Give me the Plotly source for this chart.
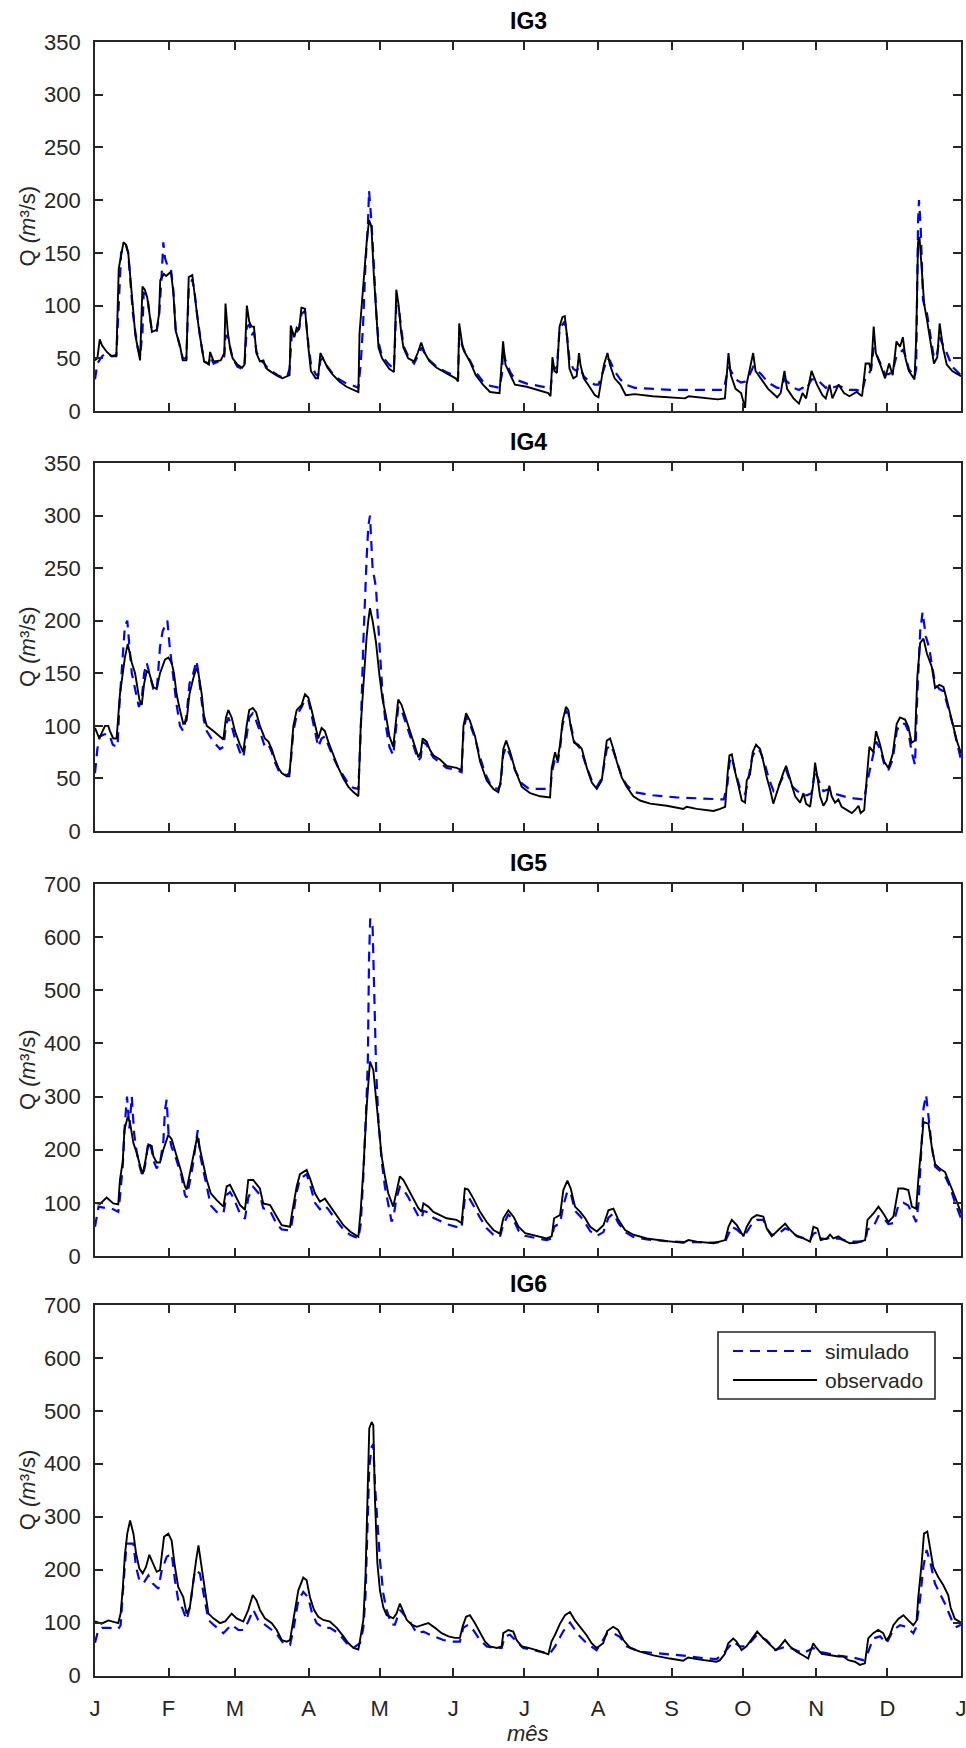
import plotly.graph_objects as go

# ---------------- data (day of year, Q m3/s) ----------------
MONTH_DAYS = [0, 31, 59, 90, 120, 151, 181, 212, 243, 273, 304, 334, 365]
MONTH_LABELS = ["J", "F", "M", "A", "M", "J", "J", "A", "S", "O", "N", "D", "J"]
STATIONS = ["IG3", "IG4", "IG5", "IG6"]
Y_MAX = [350, 350, 700, 700]
Y_STEP = [50, 50, 100, 100]
SERIES_NAMES = ["simulado", "observado"]

IG3_OBS = [(0,48),(1,50),(2,68),(3,62),(5,56),(7,52),(9,52),(10,135),(12,160),(13,158),(14,150),(15,124),(16,92),(17,72),(18,60),(19,48),(20,118),(21,115),(22,108),(23,92),(24,75),(26,77),(27,92),(27.5,124),(29,130),(30,128),(32,132),(33,113),(34,76),(36,60),(37,48),(38.5,48),(39.5,127),(41,129),(42,113),(43,92),(44,74),(45,60),(46,47),(48,44),(48.5,56),(50,47),(53,48),(54.5,55),(55,102),(56,74),(57,59),(58,50),(60,44),(62,41),(63,44),(64,100),(65,85),(66,80),(67,80),(68,55),(69.5,47),(71,48),(72,41),(73,39),(75,36),(77,33),(79,31),(81,33),(82,34),(82.5,81),(84,70),(85,79),(86,77),(87,98),(88.5,97),(90,59),(91,38),(93,31),(94,31),(95,55),(96,50),(98,41),(100,35),(103,28),(106,23),(109,20),(111,18),(111.5,74),(113,118),(114.5,160),(115.5,181),(116.5,175),(117.5,130),(118.5,90),(119.5,60),(121,50),(124,40),(126,37),(127,115),(128,100),(129,75),(130,60),(132,50),(134.5,47),(136,55),(137.5,65),(139,55),(141,47),(144,41),(148,36),(152,31),(153,28),(153.5,83),(155,60),(156,55),(158,47),(160.5,34),(163.5,25),(166.5,18),(170.5,17),(171.5,44),(172,66),(173,44),(175,34),(177,25),(182,23),(186,20),(191,17),(192,14),(192.8,51),(193.7,38),(194.7,36),(195.8,80),(197,89),(198,90),(199,70),(200,40),(201.6,31),(203,33),(204,55),(204.6,44),(206,31),(208.4,23),(210.7,15),(212.2,13),(214.5,44),(216,55),(217,44),(219,31),(221.4,25),(223.7,15),(227.5,16),(235,14),(242.7,13),(248.7,12),(250.3,14),(258,12),(262.4,11),(265.5,12),(267,55),(268,34),(270,21),(272.3,17),(273.5,8),(274,3),(274.6,25),(276,40),(277.4,55),(278.4,38),(280.7,31),(283.7,21),(287.5,13),(289,17),(290.6,38),(291.7,21),(294.4,12),(296.7,7),(298.2,17),(299.7,12),(302,38),(304.3,25),(306.6,15),(308,12),(309.6,25),(310.8,12),(313.4,25),(315.7,17),(318,14),(321,18),(323.3,14),(324.8,45),(326.3,45),(327.1,38),(328.2,80),(329.1,55),(331,44),(333,31),(334.7,45),(336.2,34),(337.8,66),(339.3,61),(340.5,70),(341.6,50),(343,38),(345.4,30),(346.1,68),(346.9,160),(347.5,165),(348.4,131),(349.5,101),(350.7,86),(352,68),(353.6,45),(355,51),(356,83),(357.5,59),(359,44),(361.3,38),(364.4,34),(365,33)]

IG3_SIM = [(0,30),(1,45),(3,52),(5,55),(7,52),(9,53),(10,100),(11,150),(12,155),(13,158),(14,150),(15,122),(16,92),(17,75),(18,60),(19,52),(20,75),(20.5,112),(22,110),(23,92),(24,76),(26,76),(27,90),(28,125),(28.8,160),(29.5,145),(30.5,138),(32,135),(33,115),(34,78),(36,60),(37,50),(38.5,50),(39.5,115),(41,125),(42,112),(43,92),(44,74),(45,60),(46,47),(48,45),(48.5,52),(50,45),(53,48),(54.5,52),(55,72),(56,70),(57,60),(58,50),(60,42),(62,40),(63,42),(64,80),(65,82),(66,72),(67,75),(68,57),(69.5,48),(71,46),(73,40),(75,37),(77,34),(79,32),(81,33),(82,40),(83,75),(84,72),(85,75),(86,78),(87,92),(88.5,95),(90,62),(91,45),(93,35),(94,33),(95,48),(96,50),(98,42),(100,36),(103,30),(106,26),(109,24),(111,22),(112,45),(113,82),(114,140),(115,175),(115.5,209),(116.5,180),(117.5,140),(118.5,95),(119.5,65),(121,52),(124,44),(126,40),(127,100),(128,98),(129,80),(130,62),(132,52),(134.5,45),(136,52),(137.5,60),(139,55),(141,48),(144,42),(148,37),(152,33),(153,30),(153.5,70),(155,62),(156,55),(158,48),(160.5,37),(163.5,28),(166.5,24),(170.5,22),(171.5,35),(172,58),(173,48),(175,37),(177,30),(182,26),(186,24),(191,22),(192,20),(192.8,40),(193.7,40),(194.7,42),(195.8,78),(197,82),(198,85),(199,70),(200,48),(201.6,40),(203,38),(204,42),(204.6,40),(206,33),(208.4,28),(210.7,25),(212.2,25),(214.5,40),(216,50),(217,48),(219,38),(221.4,30),(223.7,25),(227.5,22),(235,21),(242.7,20),(250,20),(258,20),(265,20),(267,42),(268,38),(270,30),(272.3,27),(274,28),(276,35),(277.4,42),(278.4,40),(280.7,35),(283.7,27),(287.5,22),(289,22),(290.6,30),(291.7,28),(294.4,22),(296.7,20),(298.2,22),(299.7,20),(302,30),(304.3,30),(306.6,25),(308,22),(309.6,24),(310.8,22),(313.4,24),(315.7,22),(318,20),(321,20),(323.3,18),(324.8,32),(326.3,36),(327.1,40),(328.2,60),(329.1,55),(331,45),(333,35),(334.7,35),(336.2,38),(337.8,52),(339.3,55),(340.5,58),(341.6,52),(343,40),(345.4,32),(346.1,40),(346.9,180),(347.3,200),(348,175),(349,105),(350.7,92),(352,75),(353.6,50),(355,55),(356,70),(357.5,62),(359,55),(361.3,42),(364.4,36),(365,34)]

IG4_OBS = [(0,98),(1.8,88),(4.2,100),(5.6,100),(6.3,95),(7.7,88),(9.1,88),(10.5,130),(11.7,150),(12.6,165),(13.8,178),(15.5,160),(16.9,150),(18.7,125),(19.7,120),(20.7,140),(21.8,152),(22.9,150),(24.6,137),(26,135),(27.4,150),(29.5,163),(30.9,165),(32.3,160),(33.3,150),(34.4,130),(35.8,115),(37.2,102),(38.6,105),(39.8,130),(41.4,145),(42.8,155),(43.6,150),(45,130),(45.9,110),(47.1,100),(49.9,95),(52.7,90),(54.1,87),(55.2,108),(56.2,115),(57.6,108),(59,95),(61.1,82),(62.5,75),(63.9,100),(65,115),(66.5,117),(67.9,113),(69.5,100),(71.6,88),(73.1,85),(74.5,78),(75.9,68),(77.3,60),(78.7,55),(80.8,52),(81.9,52),(82.5,70),(83.6,100),(85,115),(87.1,120),(88.5,130),(89.9,127),(91.3,115),(92.7,100),(94.1,88),(95.5,98),(96.9,95),(98.3,85),(100.4,72),(102.6,60),(104.7,50),(106.8,42),(108.9,37),(111,33),(112,100),(113.1,140),(114.5,185),(115.2,200),(115.9,212),(117,200),(118.4,180),(119.8,150),(121.2,125),(122.6,110),(124.1,90),(125.7,80),(126.9,110),(127.8,125),(129.2,120),(130.7,110),(132.8,95),(134.9,80),(136.3,70),(137.3,75),(138.1,88),(139.8,85),(141.2,77),(142.6,72),(145.4,68),(148.2,62),(152.4,60),(154.5,58),(155.3,100),(156.4,112),(158,105),(160.2,90),(162.3,66),(165.1,48),(167.9,40),(170,37),(171,48),(172.1,78),(173.3,86),(175,75),(177.1,58),(179.9,42),(183.4,36),(187.6,33),(191.8,32),(192.5,60),(193.9,75),(194.9,67),(196,82),(197.1,105),(198.5,118),(199.5,115),(200.5,99),(201.9,84),(203.7,82),(205.2,78),(207.3,60),(209.4,46),(211.5,40),(213.6,48),(215.7,86),(217.1,88),(218.5,78),(219.9,66),(222,51),(224.1,42),(226.9,33),(229.7,29),(234,26),(241,24),(248,21),(249.4,23),(253.6,21),(260.7,19),(263.5,21),(265.6,23),(266.6,54),(267.4,72),(268.4,73),(269.8,56),(271.2,43),(272.6,29),(274,27),(274.7,48),(276.1,54),(277.2,75),(278.6,82),(280.3,78),(281.7,66),(283.1,51),(284.5,40),(285.9,26),(287.3,36),(288.7,46),(290.2,56),(291.3,62),(292.3,54),(293.7,42),(295.1,33),(297.2,27),(298.6,36),(299.7,26),(301.4,23),(302.8,46),(303.5,65),(304.5,51),(305.6,33),(307,24),(308.4,29),(309.5,43),(310.5,33),(311.9,27),(313.3,30),(314.7,23),(316.9,20),(319,17),(320.4,20),(321.8,24),(322.7,17),(324.2,20),(325.3,51),(326.4,80),(328.1,75),(329.2,95),(330.9,82),(332.6,66),(334.4,60),(336.2,73),(337.9,102),(339.3,108),(341.4,106),(342.8,99),(344.2,84),(345.6,86),(346.6,147),(347.8,179),(349.2,183),(350.6,169),(352.7,156),(354.1,136),(355.9,139),(357.6,137),(359,125),(361.1,106),(363.2,86),(365,74)]

IG4_SIM = [(0,55),(1,78),(2,90),(4,92),(6,92),(7.5,82),(9.5,80),(10.3,120),(11.5,160),(12.6,195),(13.6,200),(14.5,175),(15.5,150),(16.9,135),(18.5,118),(19.7,125),(20.7,150),(21.8,160),(22.9,150),(24.6,135),(26,133),(27.4,175),(28.5,190),(29.5,195),(30.5,200),(31.5,175),(33.3,140),(34.4,120),(35.8,100),(37.2,95),(38.6,110),(39.8,140),(41.4,150),(42.8,162),(43.6,150),(45,125),(45.9,105),(47.1,95),(49.9,85),(52.7,78),(54.1,80),(55.2,100),(56.2,108),(57.6,100),(59,88),(61.1,75),(62.5,70),(63.9,90),(65,108),(66.5,112),(67.9,105),(69.5,95),(71.6,80),(73.1,82),(74.5,75),(75.9,65),(77.3,58),(78.7,55),(80.8,53),(81.9,55),(82.5,65),(83.6,95),(85,110),(87.1,118),(88.5,125),(89.9,125),(91.3,110),(92.7,95),(94.1,80),(95.5,88),(96.9,90),(98.3,82),(100.4,70),(102.6,60),(104.7,52),(106.8,45),(108.9,41),(111,40),(112,95),(113.1,180),(114.5,260),(115.2,290),(115.9,300),(117,250),(118.4,232),(119.8,175),(121.2,130),(122.6,100),(124.1,80),(125.7,72),(126.9,100),(127.8,118),(129.2,115),(130.7,105),(132.8,90),(134.9,75),(136.3,67),(137.3,70),(138.1,85),(139.8,82),(141.2,75),(142.6,70),(145.4,65),(148.2,60),(152.4,58),(154.5,56),(155.3,95),(156.4,108),(158,102),(160.2,88),(162.3,70),(164.4,55),(166.5,45),(168,41),(170,40),(171,45),(172,72),(173.3,80),(175,72),(177,58),(180,45),(183,40),(188,40),(192,40),(192.5,55),(194,70),(195,65),(196,78),(197,100),(198.5,114),(199.5,112),(200.5,100),(202,85),(204,80),(205,76),(207,62),(209.4,48),(211.5,42),(213.6,50),(215.7,78),(217.1,82),(218.5,76),(220,66),(222,52),(224,44),(227,37),(235,34),(245,32),(255,31),(265,30),(266.6,45),(267.4,65),(268.4,70),(270,55),(272,40),(274,35),(275,45),(277,70),(278.6,78),(280.3,76),(282,66),(284,50),(286,38),(288,42),(290,52),(291.3,58),(292.3,52),(294,42),(296,38),(298,35),(300,34),(302,36),(303.5,58),(305,48),(307,38),(309.5,40),(311,36),(314,34),(317,32),(320,31),(323,30),(324.2,30),(325.3,45),(326.4,56),(328,70),(329.2,85),(331,78),(332.6,64),(334.4,58),(336.2,68),(337.9,95),(339.3,102),(341.4,102),(342.8,95),(344.2,75),(345.6,63),(346.6,130),(347.8,190),(348.8,208),(350.2,185),(351.5,175),(352.7,160),(354.1,140),(355.9,135),(357.6,133),(359,122),(361.1,105),(363.2,85),(365,68)]

IG5_OBS = [(0,100),(2.1,98),(4.9,110),(7.7,99),(9.8,97),(10.5,143),(11.7,178),(12.4,237),(13.8,262),(14.8,250),(16.2,212),(17.6,194),(19,170),(20.1,154),(21.1,176),(22.5,210),(23.9,207),(24.6,188),(26,176),(27.4,176),(28.8,200),(30.9,228),(32.3,220),(33.7,200),(35.1,178),(36.5,156),(37.9,131),(38.6,125),(40,156),(41.4,190),(43.1,225),(44.3,200),(45.7,170),(47.1,143),(48.8,118),(51.3,105),(54.1,93),(55.5,131),(56.9,134),(58.3,121),(61.1,96),(63.2,87),(64.6,143),(66.7,143),(69.5,127),(70.9,99),(73.8,96),(76.6,74),(78.7,58),(82.2,55),(82.9,77),(85,131),(86.4,154),(89.2,162),(90.6,146),(92.7,118),(94.8,102),(96.9,108),(98.3,99),(101.2,80),(104.7,58),(107.5,46),(110.3,39),(111,36),(112,87),(113.1,162),(114.5,281),(115.2,331),(115.9,366),(117.3,350),(118.4,300),(119.4,247),(120.8,188),(122.2,150),(123.6,118),(125.7,93),(127.1,125),(128.5,150),(130,143),(132.1,125),(134.2,105),(136.3,90),(137.7,83),(138.4,99),(140.5,93),(142.6,83),(148.2,71),(152.4,68),(154.5,62),(155.9,127),(157.3,125),(159.5,108),(162.3,83),(165.1,64),(167.9,49),(170.7,42),(172.1,71),(174.2,86),(176.4,74),(178.5,55),(181.3,43),(185.5,38),(190.4,33),(192.5,37),(193.5,71),(196,77),(197.4,124),(199.1,142),(200.5,127),(202.3,93),(204.5,83),(206.6,71),(208.7,55),(211.5,46),(214.3,58),(216.4,86),(218.5,89),(220.6,68),(223.4,49),(226.9,40),(232.6,33),(241,28),(248,25),(250.1,30),(253.6,27),(260.7,24),(265.6,30),(267,55),(268.4,68),(270.5,58),(273.3,37),(274.7,55),(276.8,71),(278.9,77),(281.7,74),(283.1,52),(285.2,37),(288,49),(290.9,61),(293,49),(295.8,37),(298.6,33),(301.4,27),(302.8,55),(304.5,52),(305.9,30),(308.4,33),(309.8,40),(311.2,33),(313.3,37),(315.4,30),(318.2,24),(321.1,25),(324.6,30),(325.6,68),(328.1,80),(330.2,93),(332.3,80),(334.4,64),(336.5,74),(338.6,127),(340.7,127),(342.8,124),(344.3,93),(346.1,89),(347.1,149),(349.2,252),(351.3,249),(352.7,205),(354.1,173),(356.2,164),(358.3,158),(360.4,136),(362.5,111),(364.6,86),(365,80)]

IG5_SIM = [(0,55),(1.5,93),(4.9,90),(7.7,88),(9.8,83),(10.5,110),(11.7,170),(12.6,250),(13.5,300),(14.5,240),(15.5,300),(16.5,230),(17.6,195),(19,165),(20.1,150),(21.1,170),(22.5,215),(23.9,200),(24.6,180),(26,165),(27.4,175),(28.8,215),(29.5,275),(30.2,294),(31,230),(32.3,205),(33.7,190),(35.1,170),(36.5,150),(37.9,115),(38.6,110),(40,140),(41.4,175),(42.6,215),(43.3,237),(44.3,190),(45.7,160),(47.1,125),(48.8,95),(51.3,83),(54.1,80),(55.5,115),(56.9,120),(58.3,110),(61.1,80),(63.2,70),(64.6,110),(66.7,130),(69.5,115),(70.9,90),(73.8,85),(76.6,60),(78.7,50),(82.2,48),(82.9,60),(85,120),(86.4,145),(89.2,154),(90.6,135),(92.7,100),(94.8,88),(96.9,95),(98.3,88),(101.2,70),(104.7,50),(107.5,40),(110.3,35),(111,33),(112,60),(113.1,150),(114.5,300),(115,370),(115.5,560),(116,635),(117,620),(117.8,450),(118.5,350),(119.4,260),(120.8,180),(122.2,130),(123.6,95),(125,65),(125.7,70),(127.1,110),(128.5,130),(130,125),(132.1,110),(134.2,92),(136.3,75),(137.7,70),(138.4,85),(140.5,82),(142.6,72),(148.2,60),(152.4,55),(154.5,52),(155.9,110),(157.3,112),(159.5,95),(162.3,72),(165.1,52),(167.9,40),(170.7,36),(172.1,60),(174.2,78),(176.4,68),(178.5,48),(181.3,38),(185.5,34),(190.4,30),(192.5,33),(193.5,55),(196,62),(197.4,95),(199.1,122),(200.5,118),(202.3,85),(204.5,75),(206.6,62),(208.7,47),(211.5,38),(214.3,45),(216.4,72),(218.5,80),(220.6,62),(223.4,45),(226.9,36),(232.6,31),(241,28),(248,26),(253.6,26),(260.7,25),(265.6,27),(267,40),(268.4,55),(270.5,50),(273.3,38),(274.7,45),(276.8,60),(278.9,68),(281.7,68),(283.1,52),(285.2,40),(288,42),(290.9,52),(293,48),(295.8,38),(298.6,34),(301.4,30),(302.8,42),(304.5,45),(305.9,33),(308.4,32),(309.8,35),(311.2,32),(313.3,33),(315.4,30),(318.2,27),(321.1,27),(324.6,28),(325.6,50),(328.1,55),(330.2,75),(332.3,72),(334.4,60),(336.5,62),(338.6,95),(340.7,100),(342.8,95),(344.3,80),(346.1,64),(347.1,100),(348.4,200),(349.2,278),(350.3,303),(351.3,260),(352.7,205),(354.1,168),(356.2,160),(358.3,150),(360.4,130),(362.5,100),(364.6,75),(365,71)]

IG6_OBS = [(0,102),(2.8,98),(5.6,104),(9.8,99),(10.8,117),(11.7,164),(12.6,228),(13.6,268),(14.8,293),(16.2,268),(17.3,231),(18.7,202),(20.1,193),(21.5,205),(22.9,228),(24.3,213),(26,196),(27.4,199),(29.1,262),(30.9,268),(32.3,255),(33.7,205),(35.1,167),(37.2,148),(38.6,117),(40,129),(41.4,183),(42.6,217),(43.6,246),(44.7,213),(46.4,161),(47.8,117),(49.9,108),(52.7,99),(54.8,102),(57.6,117),(59.7,108),(62.5,102),(64.6,124),(66.5,152),(68.1,142),(69.5,124),(71.6,108),(74.5,99),(76.6,86),(78.7,67),(80.8,64),(82.2,67),(83.6,105),(85.7,161),(87.8,185),(89.2,180),(90.6,148),(92.3,124),(94.1,111),(96.2,105),(99,102),(101.9,90),(104.7,74),(106.8,61),(108.9,52),(111,49),(111.7,67),(113.1,105),(114,186),(114.8,319),(115.6,467),(116.6,479),(117.3,473),(118,332),(119,213),(120.1,161),(121.5,129),(122.9,114),(124.3,111),(125.7,108),(127.1,117),(128.5,136),(129.9,121),(131.4,105),(133.5,96),(135.6,92),(138.4,96),(140.5,99),(143.3,90),(146.1,80),(149,74),(151.7,71),(153.8,71),(154.9,92),(156.4,111),(158,114),(160.1,99),(162.3,80),(164.4,64),(166.5,55),(169.4,52),(171.4,55),(172.1,80),(174.2,86),(176.3,83),(177.7,67),(179.8,55),(181.9,53),(186.1,48),(191.1,40),(192.4,64),(193.9,77),(196,98),(198.1,114),(200.2,120),(202.3,104),(204.4,92),(207.2,76),(209.3,61),(211.4,52),(214.2,61),(215.9,84),(218.4,92),(220.5,86),(222.7,67),(225.5,52),(229.7,45),(235.3,38),(242.3,32),(247.9,28),(250,34),(255,30),(262,26),(263.4,29),(265.5,41),(266.9,61),(269,70),(270.4,64),(272.5,48),(274.6,55),(277.5,73),(279.1,83),(281.7,70),(284.5,58),(287,48),(288.7,55),(290.8,67),(292.9,55),(295.7,45),(299.2,36),(300.6,32),(302.7,61),(304.1,52),(306.3,41),(309.8,38),(313.3,36),(315.4,36),(317.5,29),(320.3,26),(322.4,20),(324.5,23),(325.9,70),(328,80),(330.1,86),(332.2,80),(333.6,66),(335,76),(336.5,95),(338.6,107),(340.7,114),(342.8,104),(344.9,95),(346.3,104),(347,148),(348.4,211),(349.4,268),(350.8,272),(352.2,231),(353.3,205),(355.4,186),(357.5,171),(359.6,152),(360.6,129),(362.4,107),(364.6,101),(365,100)]

IG6_SIM = [(0,62),(1.4,86),(3,90),(6,90),(9.8,88),(10.8,95),(11.7,155),(13.3,249),(14.8,249),(16.2,249),(17.3,205),(18.7,180),(20.4,174),(22.5,189),(24.3,174),(26.7,164),(28,196),(30.2,224),(32.3,231),(33.7,180),(35.1,142),(37,125),(38.6,105),(40,129),(42.1,199),(44.2,193),(45.5,161),(47.8,105),(49.9,96),(54.1,80),(57.6,96),(60.4,86),(62.5,86),(64.6,102),(66.7,124),(68.8,105),(71.6,96),(74.5,86),(77.3,74),(79.4,61),(82.2,58),(83.6,86),(85.7,142),(87.8,158),(89.8,148),(91.3,121),(93.4,99),(96.2,90),(99,90),(102.6,80),(106.1,61),(108.9,52),(111.7,61),(113.1,90),(114,150),(114.8,280),(115.6,394),(116.6,432),(117.3,437),(118,360),(119.2,268),(120.1,218),(121.5,155),(122.9,124),(125,96),(126.4,96),(128.5,124),(130.6,114),(132.7,102),(135.6,80),(138.4,83),(141.2,77),(146.8,67),(151,64),(153.8,64),(155.2,90),(157.3,96),(159.4,86),(162.3,67),(165.1,55),(168.7,52),(171.4,52),(172.8,74),(174.9,77),(177.7,64),(180.5,52),(183,50),(188,45),(191.7,41),(193.9,55),(197.4,84),(200.2,100),(203.7,77),(207.2,61),(211.4,48),(215.9,80),(218.4,80),(221.2,73),(224.1,55),(229.7,45),(238.1,42),(249.4,37),(257.8,32),(262,31),(264.8,41),(269,64),(271.8,55),(274.6,55),(279.1,77),(283,67),(286.6,48),(291.5,55),(298.5,42),(302.7,52),(305.5,45),(312.6,38),(319.6,34),(323.8,29),(325.9,45),(328,70),(330.9,74),(333.6,61),(336.5,86),(339.3,95),(342,92),(344.9,80),(346,90),(347.7,142),(349.1,205),(350.5,237),(352.2,211),(354,174),(356.1,155),(358.2,136),(361.1,105),(363.2,92),(365,96)]

SIM = [IG3_SIM, IG4_SIM, IG5_SIM, IG6_SIM]
OBS = [IG3_OBS, IG4_OBS, IG5_OBS, IG6_OBS]

# ---------------- layout geometry (pixels) ----------------
W, H = 966, 1748
PX_LEFT, PX_RIGHT = 95, 961
PANELS_PX = [(42, 411), (463, 831), (884, 1256), (1305, 1675.5)]
AX_COLOR = "#262626"
FONT = "Liberation Sans, Arial, Helvetica, sans-serif"
DASH = "10px,7px"


def py(v):
    return 1 - v / H


def px(v):
    return v / W


fig = go.Figure()
layout = dict(
    autosize=True,
    margin=dict(l=0, r=0, t=0, b=0, autoexpand=False),
    paper_bgcolor="white", plot_bgcolor="white",
    showlegend=False,
    font=dict(family=FONT, color=AX_COLOR, size=22),
)

annotations = []
for i, name in enumerate(STATIONS):
    xa = "x" if i == 0 else f"x{i+1}"
    ya = "y" if i == 0 else f"y{i+1}"
    top, bot = PANELS_PX[i]
    for pts, color, width, dash, nm in [
        (SIM[i], "#0000FF", 2.2, DASH, SERIES_NAMES[0]),
        (OBS[i], "#000000", 1.9, "solid", SERIES_NAMES[1]),
    ]:
        pts = sorted(pts)
        fig.add_trace(go.Scatter(
            x=[p[0] for p in pts], y=[p[1] for p in pts],
            mode="lines", name=nm,
            line=dict(color=color, width=width, dash=dash, shape="linear"),
            xaxis=xa, yaxis=ya, hoverinfo="skip", showlegend=False,
        ))
    axis_common = dict(
        showline=True, linecolor=AX_COLOR, linewidth=1.6, mirror="ticks",
        ticks="inside", ticklen=8, tickwidth=1.5, tickcolor=AX_COLOR,
        showgrid=False, zeroline=False,
        tickfont=dict(family=FONT, size=22, color=AX_COLOR),
        ticklabeloverflow="allow",
    )
    layout["xaxis" if i == 0 else f"xaxis{i+1}"] = dict(
        axis_common,
        domain=[px(PX_LEFT), px(PX_RIGHT)],
        anchor=ya, range=[0, 365],
        tickmode="array", tickvals=MONTH_DAYS, ticktext=MONTH_LABELS,
        showticklabels=(i == len(STATIONS) - 1),
        ticklabelstandoff=12,
    )
    layout["yaxis" if i == 0 else f"yaxis{i+1}"] = dict(
        axis_common,
        domain=[py(bot), py(top)],
        anchor=xa, range=[0, Y_MAX[i]],
        tickmode="linear", tick0=0, dtick=Y_STEP[i],
        ticklabelstandoff=8,
    )
    # panel title
    annotations.append(dict(
        text=f"<b>{name}</b>", xref="paper", yref="paper",
        x=px((PX_LEFT + PX_RIGHT) / 2), y=py(top - 21),
        xanchor="center", yanchor="middle", showarrow=False,
        font=dict(family=FONT, size=23, color="#000000"),
    ))
    # y label
    annotations.append(dict(
        text="Q <i>(m</i>³/s)", xref="paper", yref="paper",
        x=px(27), y=py((top + bot) / 2), textangle=-90,
        xanchor="center", yanchor="middle", showarrow=False,
        font=dict(family=FONT, size=22, color=AX_COLOR),
    ))

# x label
annotations.append(dict(
    text="<i>mês</i>", xref="paper", yref="paper",
    x=px((PX_LEFT + PX_RIGHT) / 2), y=py(1733),
    xanchor="center", yanchor="middle", showarrow=False,
    font=dict(family=FONT, size=22, color=AX_COLOR),
))

# legend (drawn manually to match long line samples)
LEG_BOX = (718, 1332, 935, 1399)
shapes = [
    dict(type="rect", xref="paper", yref="paper",
         x0=px(LEG_BOX[0]), x1=px(LEG_BOX[2]), y0=py(LEG_BOX[3]), y1=py(LEG_BOX[1]),
         line=dict(color=AX_COLOR, width=1.6), fillcolor="white", layer="above"),
    dict(type="line", xref="paper", yref="paper",
         x0=px(733), x1=px(812), y0=py(1351), y1=py(1351),
         line=dict(color="#0000FF", width=2.2, dash=DASH), layer="above"),
    dict(type="line", xref="paper", yref="paper",
         x0=px(733), x1=px(817), y0=py(1380), y1=py(1380),
         line=dict(color="#000000", width=1.9), layer="above"),
]
for label, yy in [(SERIES_NAMES[0], 1351), (SERIES_NAMES[1], 1380)]:
    annotations.append(dict(
        text=label, xref="paper", yref="paper",
        x=px(823), y=py(yy), xanchor="left", yanchor="middle", showarrow=False,
        font=dict(family=FONT, size=21, color=AX_COLOR),
    ))

layout["annotations"] = annotations
layout["shapes"] = shapes
fig.update_layout(**layout)
# the graph div is pinned to the page corner so the page is exactly W x H
fig.write_html(
    "out.html",
    default_width=f"{W}px",
    default_height=f"{H}px; position:absolute; left:0px; top:0px",
)
